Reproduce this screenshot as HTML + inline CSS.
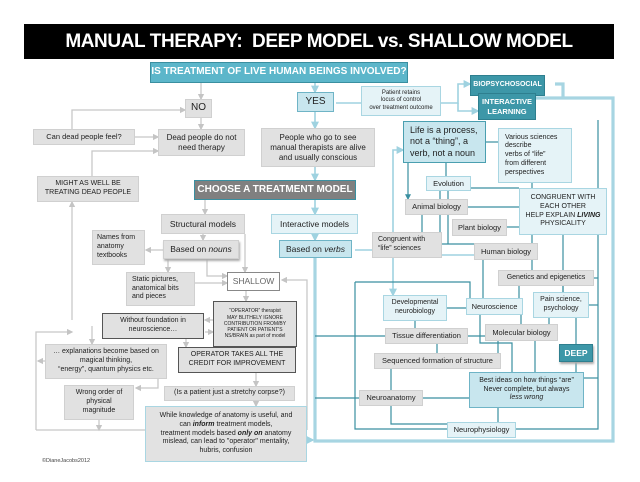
<!DOCTYPE html>
<html><head><meta charset="utf-8"><style>
body{margin:0;width:640px;height:482px;background:#fff;position:relative;overflow:hidden;font-family:"Liberation Sans",sans-serif;}
.b{position:absolute;box-sizing:border-box;display:flex;align-items:center;justify-content:center;text-align:center;font-size:7.5px;line-height:1.25;color:#222;white-space:nowrap;}
.b>span{display:block;}
.g{background:#e1e1e1;border:1px solid #d0d0d0;}
.l{background:#e5f3f7;border:1px solid #a9d6e2;}
.m{background:#c8e6ee;border:1px solid #6fb4c6;}
.t{background:#3d97a8;border:1px solid #2e7f8f;color:#fff;font-weight:bold;}
.d{border:1px solid #555;}
svg{position:absolute;left:0;top:0;}
</style></head><body>
<svg width="640" height="482">
<defs>
<marker id="a" markerWidth="5" markerHeight="5" refX="4" refY="2.5" orient="auto"><path d="M0,0L5,2.5L0,5z" fill="#c4c4c4"/></marker>
<marker id="b" markerWidth="5" markerHeight="5" refX="4" refY="2.5" orient="auto"><path d="M0,0L5,2.5L0,5z" fill="#3a8fa0"/></marker>
<marker id="c" markerWidth="5" markerHeight="5" refX="4" refY="2.5" orient="auto"><path d="M0,0L5,2.5L0,5z" fill="#9fd2e0"/></marker>
</defs>
<g stroke="#c8c8c8" stroke-width="1.3" fill="none" marker-end="url(#a)">
<path d="M201,82V99"/><path d="M201,118V129"/>
<path d="M72,129V110H185"/><path d="M135,137H158"/><path d="M92,176V151H158"/>
<path d="M72,320V202"/><path d="M36,430V332H72"/>
<path d="M205,200V214"/><path d="M203,234V240"/>
<path d="M163,250H146"/><path d="M245,234V272"/>
<path d="M168,259V272"/><path d="M207,259V276H227"/><path d="M195,283H227"/>
<path d="M246,291V301"/><path d="M213,320H205"/><path d="M205,332H213"/>
<path d="M92,326V344"/><path d="M186,339V347"/><path d="M158,361V388H136"/>
<path d="M256,373V386"/><path d="M256,401V406"/>
<path d="M99,420V430"/><path d="M45,361H38"/>
<path d="M307,430V280H282"/>
</g>
<path d="M36,430H145" stroke="#c8c8c8" stroke-width="1.3" fill="none"/>
<g stroke="#9fd2e0" stroke-width="1.6" fill="none">
<path d="M315,82V92" marker-end="url(#c)"/><path d="M315,112V128" marker-end="url(#c)"/>
<path d="M315,167V180" marker-end="url(#c)"/><path d="M315,200V214" marker-end="url(#c)"/>
<path d="M315,234V240" marker-end="url(#c)"/>
<path d="M336,103H361" /><path d="M441,103H458V84H470" marker-end="url(#c)"/>
<path d="M458,103V111H478" marker-end="url(#c)"/>
<path d="M355,250H372"/><path d="M442,255H474"/>
<path d="M393,258V295" marker-end="url(#c)"/><path d="M393,233V150H403" marker-end="url(#c)"/>
</g>
<path d="M315,258V441H613V98H536M555,84H563V98" stroke="#a7d5e2" stroke-width="3.2" fill="none"/>
<path d="M307,440H313" stroke="#9fd2e0" stroke-width="1.6" marker-end="url(#c)"/>
<g stroke="#3a8fa0" stroke-width="1.2" fill="none">
<path d="M355,282H470V298"/><path d="M355,282V429H447"/><path d="M516,429H598V120"/>
<path d="M408,163V199" marker-end="url(#b)"/><path d="M446,163V176"/>
<path d="M486,142H498"/><path d="M532,183V188"/>
<path d="M471,188H519"/><path d="M468,207H519"/><path d="M507,227H519"/>
<path d="M440,180V244H474"/><path d="M448,191V244"/>
<path d="M422,215V233"/><path d="M483,260V298"/><path d="M532,235V270"/>
<path d="M563,235V292"/><path d="M519,286V298"/><path d="M563,286V292"/>
<path d="M594,278H598"/><path d="M589,305H598"/><path d="M584,378H598"/>
<path d="M447,308H466"/><path d="M415,321V328"/><path d="M468,336H485"/>
<path d="M521,315V324"/><path d="M549,318V324"/><path d="M576,318V344"/>
<path d="M480,315V343H512V372"/><path d="M498,341V353"/><path d="M535,341V372"/>
<path d="M576,362V372"/><path d="M437,344V353"/>
<path d="M391,369V390"/><path d="M423,398H469"/>
<path d="M391,406V424H447"/><path d="M498,408V422"/>
<path d="M315,336H385"/><path d="M315,398H359"/>
</g>
</svg>
<div style="position:absolute;left:24px;top:24px;width:590px;height:35px;background:#000;color:#fff;font-weight:bold;font-size:19px;letter-spacing:-0.4px;display:flex;align-items:center;justify-content:center;white-space:nowrap;">MANUAL THERAPY:&nbsp; DEEP MODEL vs. SHALLOW MODEL</div>
<div class="b" style="left:150px;top:62px;width:258px;height:21px;background:#5cb6ca;border:1px solid #3a8fa0;color:#fff;font-weight:bold;font-size:10px;"><span>IS TREATMENT OF LIVE HUMAN BEINGS INVOLVED?</span></div>
<div class="b g" style="left:185px;top:99px;width:27px;height:19px;font-size:10px;"><span>NO</span></div>
<div class="b m" style="left:297px;top:92px;width:37px;height:20px;font-size:10px;"><span>YES</span></div>
<div class="b l" style="left:361px;top:86px;width:80px;height:30px;font-size:6px;"><span>Patient retains<br>locus of control<br>over treatment outcome</span></div>
<div class="b t" style="left:470px;top:75px;width:75px;height:21px;font-size:7px;"><span>BIOPSYCHOSOCIAL</span></div>
<div class="b t" style="left:478px;top:93px;width:58px;height:27px;font-size:7.5px;"><span>INTERACTIVE<br>LEARNING</span></div>
<div class="b g" style="left:33px;top:129px;width:102px;height:16px;"><span>Can dead people feel?</span></div>
<div class="b g" style="left:158px;top:129px;width:87px;height:27px;font-size:8px;"><span>Dead people do not<br>need therapy</span></div>
<div class="b g" style="left:261px;top:128px;width:114px;height:39px;font-size:8px;"><span>People who go to see<br>manual therapists are alive<br>and usually conscious</span></div>
<div class="b m" style="left:403px;top:121px;width:83px;height:42px;font-size:9px;justify-content:flex-start;text-align:left;padding-left:6px;border-color:#4a9fb0;"><span>Life is a process,<br>not a “thing”, a<br>verb, not a noun</span></div>
<div class="b l" style="left:498px;top:128px;width:74px;height:55px;font-size:7px;justify-content:flex-start;text-align:left;padding-left:6px;"><span>Various sciences<br>describe<br>verbs of “life”<br>from different<br>perspectives</span></div>
<div class="b g" style="left:37px;top:176px;width:102px;height:26px;font-size:7px;"><span>MIGHT AS WELL BE<br>TREATING DEAD PEOPLE</span></div>
<div class="b" style="left:194px;top:180px;width:162px;height:20px;background:#808080;border:1px solid #3a8fa0;color:#fff;font-weight:bold;font-size:10px;"><span>CHOOSE A TREATMENT MODEL</span></div>
<div class="b l" style="left:426px;top:176px;width:45px;height:15px;"><span>Evolution</span></div>
<div class="b l" style="left:519px;top:188px;width:88px;height:47px;font-size:7px;"><span>CONGRUENT WITH<br>EACH OTHER<br>HELP EXPLAIN <b><i>LIVING</i></b><br>PHYSICALITY</span></div>
<div class="b g" style="left:405px;top:199px;width:63px;height:16px;"><span>Animal biology</span></div>
<div class="b g" style="left:161px;top:214px;width:84px;height:20px;font-size:8.5px;"><span>Structural models</span></div>
<div class="b l" style="left:271px;top:214px;width:87px;height:20px;font-size:8.5px;"><span>Interactive models</span></div>
<div class="b g" style="left:452px;top:219px;width:55px;height:17px;"><span>Plant biology</span></div>
<div class="b g" style="left:92px;top:230px;width:53px;height:35px;font-size:7px;justify-content:flex-start;text-align:left;padding-left:4px;"><span>Names from<br>anatomy<br>textbooks</span></div>
<div class="b g" style="left:163px;top:240px;width:76px;height:19px;font-size:8.5px;box-shadow:1px 2px 2px #aaa;"><span>Based on <i>nouns</i></span></div>
<div class="b m" style="left:279px;top:240px;width:73px;height:18px;font-size:8.5px;"><span>Based on <i>verbs</i></span></div>
<div class="b g" style="left:372px;top:232px;width:70px;height:26px;font-size:7px;justify-content:flex-start;text-align:left;padding-left:5px;"><span>Congruent with<br>“life” sciences</span></div>
<div class="b g" style="left:474px;top:243px;width:64px;height:17px;"><span>Human biology</span></div>
<div class="b" style="left:227px;top:272px;width:53px;height:19px;background:#fff;border:1px solid #888;color:#666;font-size:8.5px;"><span>SHALLOW</span></div>
<div class="b g" style="left:126px;top:272px;width:69px;height:34px;font-size:7px;justify-content:flex-start;text-align:left;padding-left:5px;"><span>Static pictures,<br>anatomical bits<br>and pieces</span></div>
<div class="b g" style="left:498px;top:270px;width:96px;height:16px;font-size:7px;"><span>Genetics and epigenetics</span></div>
<div class="b l" style="left:383px;top:295px;width:64px;height:26px;font-size:7px;"><span>Developmental<br>neurobiology</span></div>
<div class="b l" style="left:466px;top:298px;width:57px;height:17px;"><span>Neuroscience</span></div>
<div class="b l" style="left:533px;top:292px;width:56px;height:26px;font-size:7px;"><span>Pain science,<br>psychology</span></div>
<div class="b g d" style="left:213px;top:301px;width:84px;height:46px;font-size:5px;"><span>“OPERATOR” therapist<br>MAY BLITHELY IGNORE<br>CONTRIBUTION FROM/BY<br>PATIENT OR PATIENT'S<br>NS/BRAIN as part of model</span></div>
<div class="b g d" style="left:102px;top:313px;width:102px;height:26px;font-size:7px;"><span>Without foundation in<br>neuroscience…</span></div>
<div class="b g" style="left:385px;top:328px;width:83px;height:16px;"><span>Tissue differentiation</span></div>
<div class="b g" style="left:485px;top:324px;width:73px;height:17px;"><span>Molecular biology</span></div>
<div class="b t" style="left:559px;top:344px;width:34px;height:18px;font-size:8.5px;box-shadow:1px 2px 2px #aaa;"><span>DEEP</span></div>
<div class="b g" style="left:45px;top:344px;width:122px;height:35px;font-size:7px;"><span>… explanations become based on<br>magical thinking,<br>“energy”, quantum physics etc.</span></div>
<div class="b g d" style="left:178px;top:347px;width:118px;height:26px;font-size:7px;"><span>OPERATOR TAKES ALL THE<br>CREDIT FOR IMPROVEMENT</span></div>
<div class="b g" style="left:374px;top:353px;width:127px;height:16px;"><span>Sequenced formation of structure</span></div>
<div class="b m" style="left:469px;top:372px;width:115px;height:36px;font-size:7px;"><span>Best ideas on how things “are”<br>Never complete, but always<br><i>less wrong</i></span></div>
<div class="b g" style="left:64px;top:385px;width:70px;height:35px;font-size:7px;"><span>Wrong order of<br>physical<br>magnitude</span></div>
<div class="b g" style="left:164px;top:386px;width:131px;height:15px;font-size:7px;"><span>(Is a patient just a stretchy corpse?)</span></div>
<div class="b g" style="left:359px;top:390px;width:64px;height:16px;"><span>Neuroanatomy</span></div>
<div class="b l" style="left:145px;top:406px;width:162px;height:56px;font-size:7px;background:#e2e2e2;"><span>While knowledge <i>of</i> anatomy is useful, and<br>can <b><i>inform</i></b> treatment models,<br>treatment models based <b><i>only on</i></b> anatomy<br>mislead, can lead to "operator" mentality,<br>hubris, confusion</span></div>
<div class="b l" style="left:447px;top:422px;width:69px;height:16px;"><span>Neurophysiology</span></div>
<div style="position:absolute;left:42px;top:458px;font-size:5.5px;color:#444;">©DianeJacobs2012</div>
</body></html>
